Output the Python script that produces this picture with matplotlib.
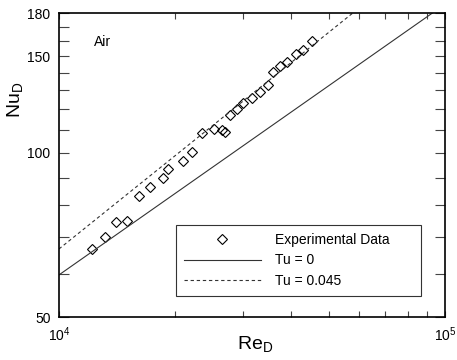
import matplotlib
matplotlib.use("Agg")
import matplotlib.pyplot as plt
from matplotlib.ticker import FixedLocator, NullFormatter, FixedFormatter

plt.rcParams['font.family'] = ['Liberation Sans', 'DejaVu Sans']
plt.rcParams['mathtext.fontset'] = 'custom'
plt.rcParams['mathtext.rm'] = 'Liberation Sans'
plt.rcParams['mathtext.it'] = 'Liberation Sans'

re_exp = [12180, 13160, 14050, 15030, 16150, 17210, 18630, 19200, 20920, 22070,
          23420, 25210, 26390, 26920, 27730, 28860, 30020, 31570, 33180, 34850,
          35780, 37370, 39040, 41110, 42950, 45160]
nu_exp = [66.6, 70.1, 74.7, 75.0, 83.2, 86.3, 89.7, 93.2, 96.6, 100.3,
          108.4, 110.4, 109.9, 109.2, 117.1, 120.1, 123.2, 125.6, 129.2, 132.8,
          140.5, 144.2, 146.5, 151.4, 154.0, 160.0]

# correlations
re_line = [1e4, 1e5]
nu_tu0 = [59.7, 186.9]
nu_tu045 = [66.6, 246.0]

fig = plt.figure(figsize=(4.57, 3.6), dpi=100)
ax = fig.add_axes([0.129, 0.1194, 0.845, 0.8444])

ax.plot(re_exp, nu_exp, linestyle='none', marker='D', markersize=5,
        markerfacecolor='none', markeredgecolor='black', markeredgewidth=0.8,
        label='Experimental Data')
ax.plot(re_line, nu_tu0, color='#333333', linewidth=0.8, label='Tu = 0')
ax.plot(re_line, nu_tu045, color='#333333', linewidth=0.8, dashes=(3, 2.5),
        label='Tu = 0.045')

ax.set_xscale('log')
ax.set_yscale('log')
ax.set_xlim(1e4, 1e5)
ax.set_ylim(50, 180)

ax.yaxis.set_major_locator(FixedLocator([50, 100, 150, 180]))
ax.yaxis.set_major_formatter(FixedFormatter(['50', '100', '150', '180']))
ax.yaxis.set_minor_locator(FixedLocator([60, 70, 80, 90, 110, 120, 130, 140, 160, 170]))
ax.yaxis.set_minor_formatter(NullFormatter())
ax.xaxis.set_minor_formatter(NullFormatter())

ax.tick_params(which='both', direction='in', top=True, right=True,
               labelsize=10, width=0.8, color='#444444')
ax.tick_params(axis='y', which='both', length=7, pad=6)
ax.tick_params(axis='x', which='both', length=4.5, pad=6)
for s in ax.spines.values():
    s.set_linewidth(1.2)

ax.set_xlabel(r'$\mathregular{Re_D}$', fontsize=14)
ax.set_ylabel(r'$\mathregular{Nu_D}$', fontsize=14)
ax.xaxis.set_label_coords(0.508, -0.055)
ax.yaxis.set_label_coords(-0.088, 0.714)

ax.text(0.114, 0.905, 'Air', transform=ax.transAxes, fontsize=10,
        ha='center', va='center')

leg = ax.legend(loc='lower left', bbox_to_anchor=(0.303, 0.069, 0.635, 0.276),
                mode='expand', fontsize=10, frameon=True, fancybox=False,
                edgecolor='#333333', framealpha=1, handlelength=5.5,
                labelspacing=0.45, borderpad=0.6, handletextpad=1.0,
                borderaxespad=0)
leg.get_frame().set_linewidth(0.8)

fig.savefig('out.png', dpi=100)
